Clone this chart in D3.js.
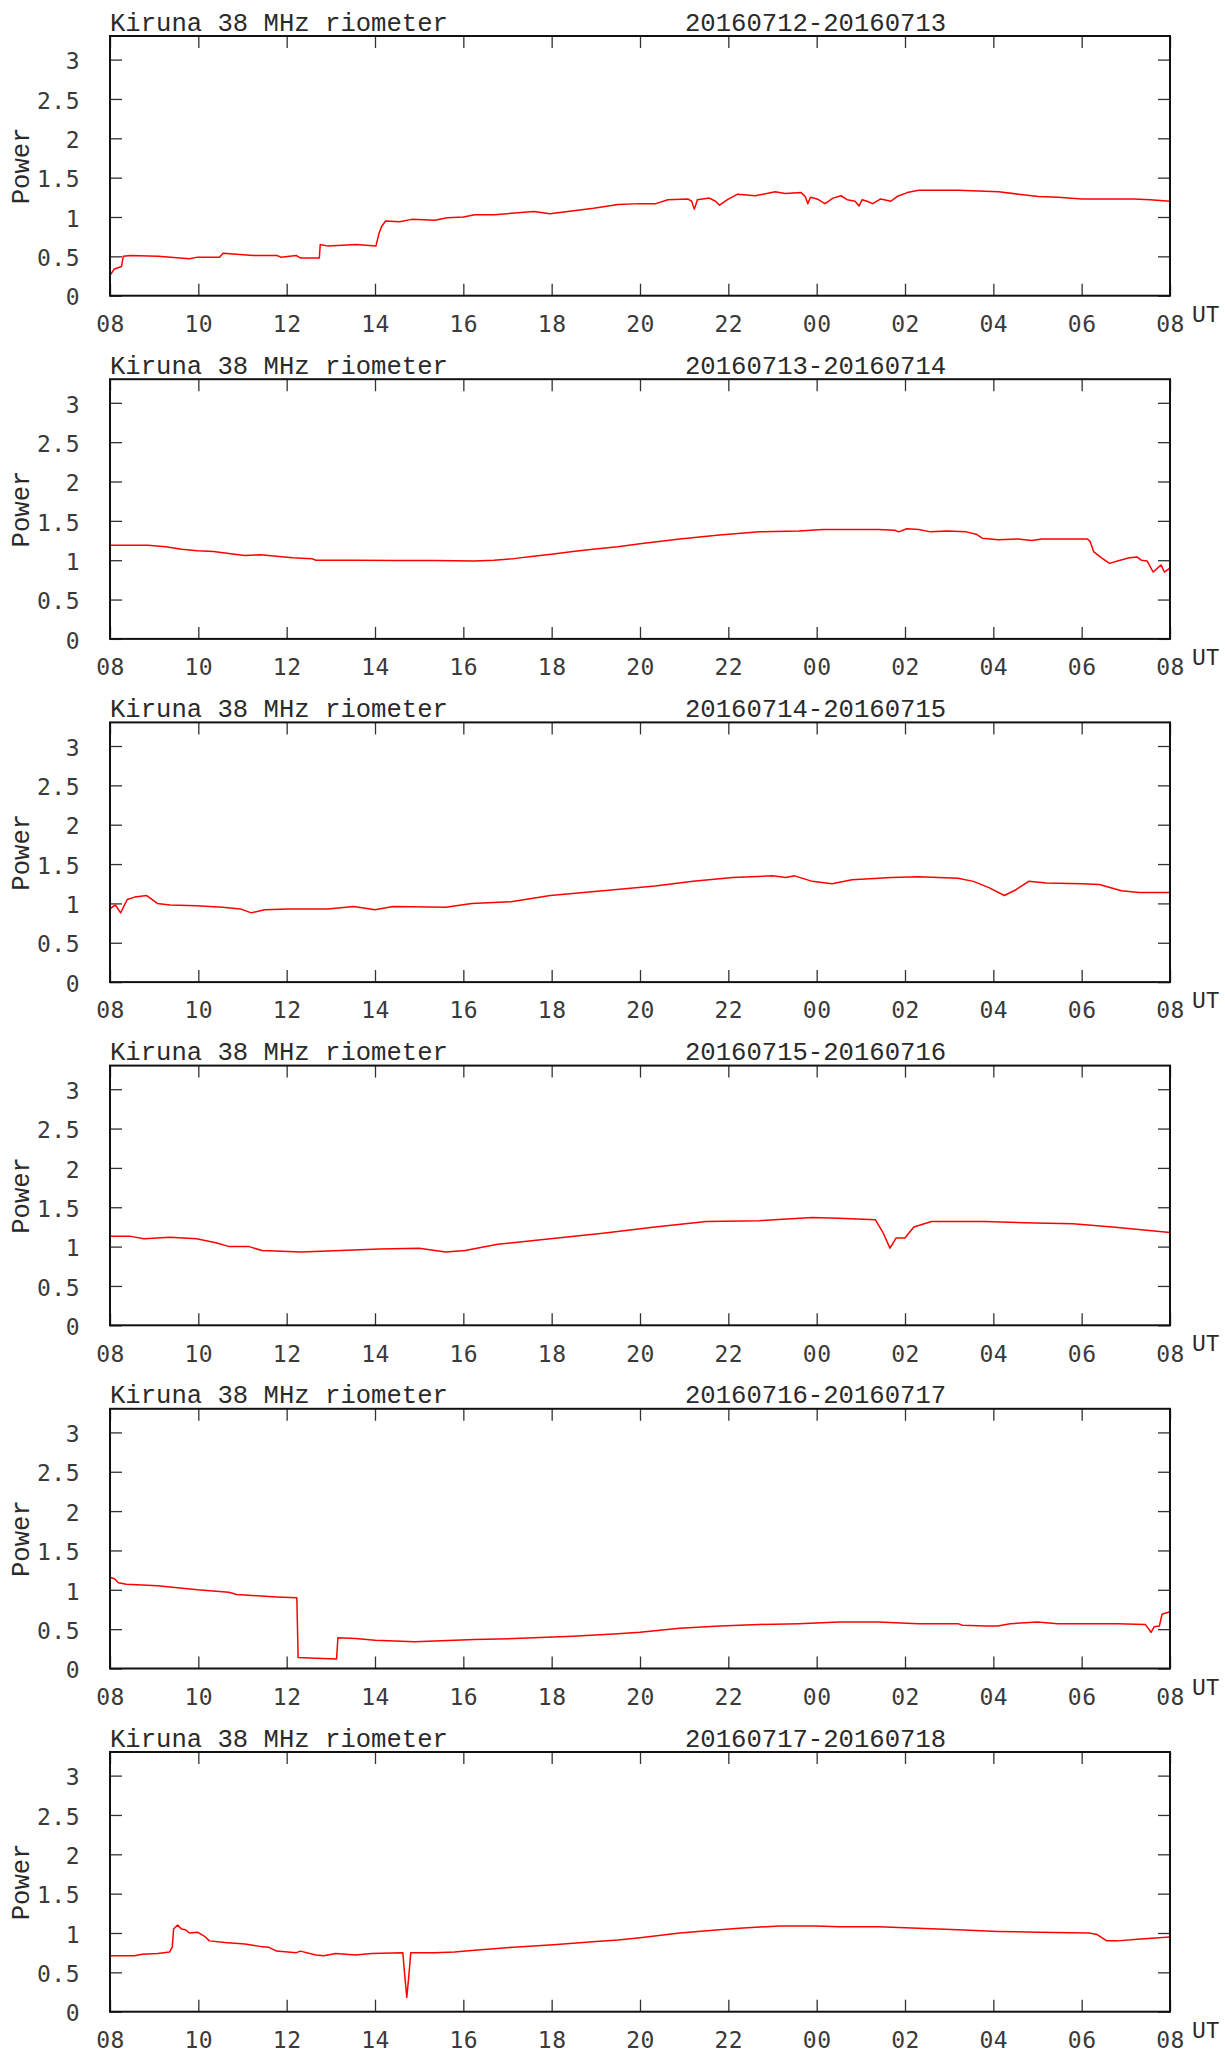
<!DOCTYPE html>
<html>
<head>
<meta charset="utf-8">
<script src="https://cdn.jsdelivr.net/npm/d3@7"></script>
<style>
  html, body { margin: 0; padding: 0; background: #fff; }
  svg { display: block; }
</style>
</head>
<body>
<svg id="chart" width="1225" height="2053"></svg>
<script>
// ---------------- data ----------------
const stationTitle = "Kiruna 38 MHz riometer";
const dateLabels = [
  "20160712-20160713", "20160713-20160714", "20160714-20160715",
  "20160715-20160716", "20160716-20160717", "20160717-20160718"
];
const xTickHours = [0, 2, 4, 6, 8, 10, 12, 14, 16, 18, 20, 22, 24];
const xTickLabels = ["08","10","12","14","16","18","20","22","00","02","04","06","08"];
const yTickValues = [0, 0.5, 1, 1.5, 2, 2.5, 3];
const yTickLabels = ["0","0.5","1","1.5","2","2.5","3"];
const yLabel = "Power";
const xUnit = "UT";

// [hours since 08 UT, power]
const series0712 = [
  [0,0.26],[0.1,0.34],[0.26,0.37],[0.3,0.50],[0.46,0.51],[1.09,0.50],[1.8,0.47],[1.98,0.49],
  [2.48,0.49],[2.56,0.54],[3.24,0.51],[3.78,0.51],[3.87,0.49],[4.22,0.51],[4.31,0.48],[4.74,0.48],
  [4.76,0.65],[4.94,0.63],[5.57,0.65],[6.02,0.63],[6.09,0.79],[6.15,0.88],[6.24,0.95],[6.56,0.94],
  [6.83,0.97],[7.36,0.96],[7.63,0.99],[8.0,1.00],[8.26,1.03],[8.7,1.03],[9.6,1.07],[9.96,1.04],
  [10.5,1.08],[10.95,1.11],[11.5,1.16],[12.0,1.17],[12.36,1.17],[12.63,1.22],[13.08,1.23],[13.17,1.20],
  [13.23,1.10],[13.3,1.22],[13.57,1.24],[13.71,1.20],[13.8,1.15],[13.98,1.22],[14.21,1.29],[14.61,1.27],
  [15.06,1.32],[15.29,1.30],[15.65,1.31],[15.74,1.26],[15.8,1.17],[15.86,1.25],[16.01,1.23],[16.19,1.17],
  [16.37,1.24],[16.55,1.27],[16.69,1.22],[16.87,1.20],[16.96,1.14],[17.03,1.22],[17.14,1.20],[17.27,1.17],
  [17.45,1.23],[17.68,1.20],[17.82,1.26],[18.05,1.31],[18.31,1.34],[18.76,1.34],[19.21,1.34],[19.66,1.33],
  [20.12,1.32],[20.57,1.29],[21.02,1.26],[21.47,1.25],[22.01,1.23],[22.37,1.23],[22.83,1.23],[23.18,1.23],
  [23.55,1.22],[24,1.20]
];
const series0713 = [
  [0,1.19],[0.46,1.19],[0.86,1.19],[1.26,1.17],[1.62,1.14],[1.98,1.12],[2.34,1.11],[2.78,1.08],
  [3.05,1.06],[3.41,1.07],[3.77,1.05],[4.13,1.03],[4.57,1.02],[4.66,1.00],[4.93,1.00],[5.56,1.00],
  [6.45,0.995],[7.35,0.995],[8.25,0.99],[8.69,1.00],[9.14,1.02],[9.59,1.05],[10.04,1.08],[10.48,1.11],
  [10.93,1.14],[11.5,1.17],[12.0,1.21],[12.9,1.27],[13.8,1.32],[14.7,1.36],[15.6,1.37],[16.14,1.39],
  [16.5,1.39],[16.96,1.39],[17.41,1.39],[17.77,1.38],[17.86,1.36],[18.04,1.40],[18.31,1.39],[18.58,1.36],
  [18.94,1.37],[19.39,1.36],[19.61,1.33],[19.75,1.28],[20.11,1.26],[20.56,1.27],[20.87,1.25],[21.1,1.27],
  [21.91,1.27],[22.13,1.27],[22.19,1.24],[22.27,1.11],[22.45,1.03],[22.63,0.96],[22.81,0.99],[23.08,1.03],
  [23.26,1.04],[23.35,1.00],[23.48,0.99],[23.62,0.85],[23.8,0.94],[23.87,0.85],[24,0.90]
];
const series0714 = [
  [0,0.93],[0.12,0.98],[0.24,0.88],[0.39,1.05],[0.56,1.08],[0.83,1.10],[0.95,1.05],[1.07,1.0],
  [1.36,0.98],[1.96,0.97],[2.55,0.95],[2.95,0.93],[3.2,0.88],[3.5,0.92],[4.04,0.93],[4.93,0.93],
  [5.52,0.96],[6.0,0.92],[6.41,0.96],[7.6,0.95],[8.19,1.0],[9.08,1.02],[9.97,1.1],[11.16,1.16],
  [12.34,1.22],[13.2,1.28],[14.1,1.33],[15.0,1.35],[15.3,1.33],[15.5,1.35],[15.9,1.28],[16.35,1.25],
  [16.8,1.30],[17.7,1.33],[18.3,1.34],[19.2,1.32],[19.55,1.28],[19.9,1.20],[20.25,1.10],[20.5,1.17],
  [20.8,1.28],[21.2,1.26],[22.0,1.25],[22.4,1.24],[22.9,1.16],[23.3,1.14],[24,1.14]
];
const series0715 = [
  [0,1.13],[0.47,1.13],[0.77,1.10],[1.36,1.12],[1.96,1.10],[2.4,1.05],[2.7,1.0],[3.15,1.0],
  [3.44,0.95],[4.33,0.93],[5.22,0.95],[6.11,0.97],[7.0,0.98],[7.6,0.93],[8.04,0.95],[8.78,1.03],
  [9.97,1.10],[11.16,1.17],[12.34,1.25],[13.5,1.32],[14.7,1.33],[15.9,1.37],[16.5,1.36],[17.33,1.34],
  [17.5,1.18],[17.66,0.98],[17.8,1.11],[18.0,1.11],[18.2,1.25],[18.6,1.32],[19.8,1.32],[20.95,1.30],
  [21.8,1.29],[22.7,1.25],[24,1.18]
];
const series0716 = [
  [0,1.16],[0.1,1.14],[0.19,1.09],[0.37,1.07],[1.08,1.05],[1.98,1.00],[2.69,0.97],[2.87,0.94],
  [3.77,0.91],[4.23,0.90],[4.26,0.14],[4.66,0.13],[5.13,0.12],[5.16,0.39],[5.56,0.38],[6.0,0.36],
  [6.45,0.35],[6.9,0.34],[7.35,0.35],[8.25,0.37],[9.14,0.38],[10.04,0.40],[10.48,0.41],[11.5,0.44],
  [12.0,0.46],[12.9,0.51],[13.8,0.54],[14.7,0.56],[15.6,0.57],[16.5,0.59],[17.4,0.59],[18.3,0.57],
  [19.2,0.57],[19.3,0.55],[19.84,0.54],[20.1,0.54],[20.38,0.57],[21.0,0.59],[21.46,0.57],[21.91,0.57],
  [22.81,0.57],[23.44,0.56],[23.57,0.46],[23.64,0.53],[23.76,0.54],[23.82,0.69],[24,0.72]
];
const series0717 = [
  [0,0.71],[0.55,0.71],[0.73,0.73],[1.08,0.74],[1.35,0.76],[1.41,0.82],[1.44,1.05],[1.53,1.10],
  [1.62,1.05],[1.71,1.04],[1.8,1.0],[1.98,1.01],[2.16,0.95],[2.25,0.90],[2.6,0.88],[3.05,0.86],
  [3.41,0.83],[3.59,0.82],[3.77,0.77],[4.22,0.75],[4.31,0.77],[4.66,0.72],[4.84,0.71],[5.11,0.74],
  [5.56,0.72],[5.92,0.74],[6.63,0.75],[6.67,0.48],[6.72,0.18],[6.77,0.48],[6.81,0.75],[7.35,0.75],
  [7.8,0.76],[8.25,0.78],[9.14,0.82],[10.04,0.85],[10.93,0.89],[11.5,0.91],[12.0,0.94],[12.9,1.0],
  [13.8,1.04],[14.25,1.06],[15.15,1.09],[16.0,1.09],[16.5,1.08],[17.4,1.08],[18.3,1.06],[19.2,1.04],
  [20.1,1.02],[21.0,1.01],[22.17,1.0],[22.35,0.98],[22.57,0.90],[22.81,0.90],[23.26,0.92],[24,0.95]
];
const allSeries = [series0712, series0713, series0714, series0715, series0716, series0717];

// ---------------- layout ----------------
const left = 110, right = 1170;
const firstTop = 36, panelStep = 343.2, panelH = 259.7;
const titleFont = "'Liberation Mono', 'Courier New', monospace";
const tickFont = "'DejaVu Sans Mono', 'Liberation Mono', monospace";

const svg = d3.select("#chart");
const x = d3.scaleLinear().domain([0, 24]).range([left, right]);

allSeries.forEach((data, i) => {
  const top = firstTop + i * panelStep;
  const bottom = top + panelH;
  const y = d3.scaleLinear().domain([0, 3.3]).range([bottom, top]);
  const g = svg.append("g");

  // titles
  g.append("text").attr("x", left).attr("y", top - 5.5)
    .attr("font-family", titleFont).attr("font-size", 25.6).attr("fill", "#2a2a2a")
    .text(stationTitle);
  g.append("text").attr("x", 685).attr("y", top - 5.5)
    .attr("font-family", titleFont).attr("font-size", 25.6).attr("fill", "#2a2a2a")
    .text(dateLabels[i]);

  const fmtX = (d) => xTickLabels[xTickHours.indexOf(d)];
  const fmtY = (d) => yTickLabels[yTickValues.indexOf(d)];

  const axB = g.append("g").attr("transform", `translate(0,${bottom})`)
    .call(d3.axisBottom(x).tickValues(xTickHours).tickFormat(fmtX).tickSize(-12).tickPadding(25));
  const axT = g.append("g").attr("transform", `translate(0,${top})`)
    .call(d3.axisTop(x).tickValues(xTickHours).tickFormat("").tickSize(-12));
  const axL = g.append("g").attr("transform", `translate(${left},0)`)
    .call(d3.axisLeft(y).tickValues(yTickValues).tickFormat(fmtY).tickSize(-12).tickPadding(30));
  const axR = g.append("g").attr("transform", `translate(${right},0)`)
    .call(d3.axisRight(y).tickValues(yTickValues).tickFormat("").tickSize(-12));

  [axB, axT, axL, axR].forEach(a => {
    a.select(".domain").remove();
    a.selectAll(".tick line").attr("stroke", "#333").attr("stroke-width", 1.3);
    a.selectAll(".tick text").attr("font-family", tickFont).attr("font-size", 23)
      .attr("fill", "#3a3a3a").attr("letter-spacing", "0.5px");
  });
  axB.selectAll(".tick text").attr("dy", "0.71em").attr("y", 0)
    .attr("transform", "translate(0,20)");
  axL.selectAll(".tick text").attr("dy", "0.40em");

  const line = d3.line().x(d => x(d[0])).y(d => y(d[1]));
  g.append("path").datum(data).attr("d", line)
    .attr("fill", "none").attr("stroke", "#ff0000").attr("stroke-width", 1.5)
    .attr("stroke-linejoin", "round");

  g.append("rect").attr("x", left).attr("y", top).attr("width", right - left).attr("height", panelH)
    .attr("fill", "none").attr("stroke", "#111").attr("stroke-width", 2);

  g.append("text")
    .attr("transform", `translate(${20.5},${(top + bottom) / 2}) rotate(-90)`)
    .attr("text-anchor", "middle").attr("dy", "0.35em")
    .attr("font-family", titleFont).attr("font-size", 25.6).attr("fill", "#2a2a2a")
    .text(yLabel);

  g.append("text").attr("x", 1192).attr("y", bottom + 26)
    .attr("font-family", titleFont).attr("font-size", 23).attr("fill", "#2a2a2a")
    .text(xUnit);
});
</script>
</body>
</html>
